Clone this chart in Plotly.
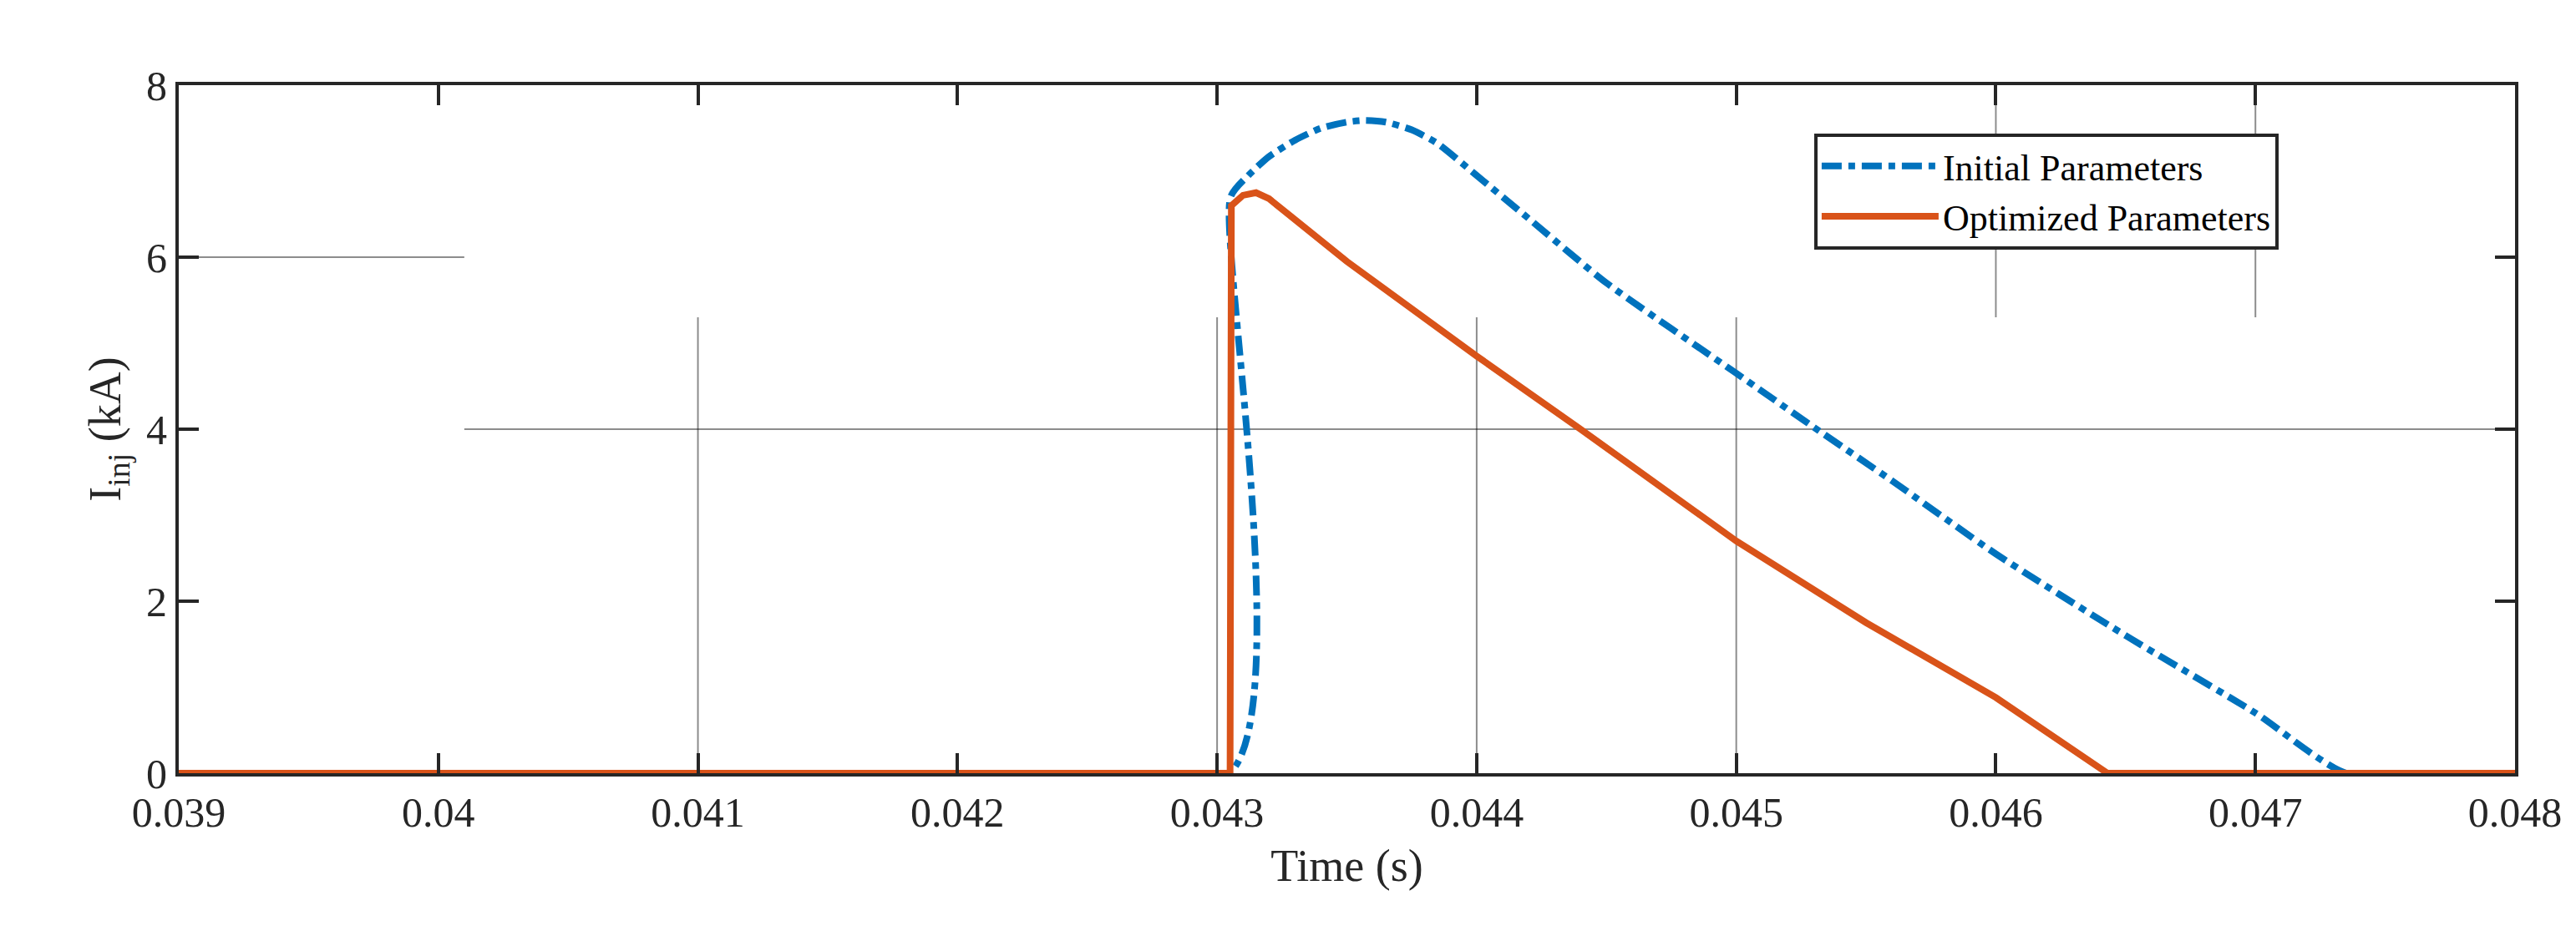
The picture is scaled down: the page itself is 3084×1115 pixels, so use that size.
import plotly.graph_objects as go

# time (s) and injected current (kA)
t_init = [0.039, 0.04305, 0.043052, 0.04312, 0.0432, 0.0433, 0.0434, 0.0435, 0.04357, 0.04365, 0.04375, 0.04385,
          0.0440, 0.0442, 0.0445, 0.0450, 0.0453, 0.0456, 0.0460, 0.0465, 0.0470, 0.04735, 0.048]
i_init = [0.0, 0.0, 6.7, 6.95, 7.17, 7.36, 7.5, 7.57, 7.59, 7.57, 7.48, 7.32,
          6.95, 6.45, 5.7, 4.65, 4.02, 3.4, 2.55, 1.6, 0.7, 0.0, 0.0]

t_opt = [0.039, 0.04305, 0.043055, 0.04310, 0.04315, 0.0432, 0.0435, 0.0440, 0.0444, 0.0450, 0.0455, 0.0460, 0.04643, 0.048]
i_opt = [0.0, 0.0, 6.6, 6.72, 6.75, 6.68, 5.95, 4.85, 4.0, 2.7, 1.75, 0.88, 0.0, 0.0]

x_ticks = [0.039, 0.04, 0.041, 0.042, 0.043, 0.044, 0.045, 0.046, 0.047, 0.048]
y_ticks = [0, 2, 4, 6, 8]

font = "Liberation Serif"
fig = go.Figure()
fig.add_trace(go.Scatter(x=t_init, y=i_init, mode="lines", name="Initial Parameters", line_shape="spline",
                         line=dict(color="#0072BD", width=8, dash="dashdot", smoothing=0.6)))
fig.add_trace(go.Scatter(x=t_opt, y=i_opt, mode="lines", name="Optimized Parameters",
                         line=dict(color="#D95319", width=8)))

# faint grid fragments seen in the source image
grid = dict(type="line", line=dict(color="rgba(0,0,0,0.45)", width=2), layer="below")
fig.add_shape(x0=0.0401, x1=0.048, y0=4, y1=4, **grid)
fig.add_shape(x0=0.039, x1=0.0401, y0=6, y1=6, **grid)
for xv in [0.041, 0.043, 0.044, 0.045]:
    fig.add_shape(x0=xv, x1=xv, y0=0, y1=5.3, **grid)
for xv in [0.046, 0.047]:
    fig.add_shape(x0=xv, x1=xv, y0=5.3, y1=8, **grid)

axis = dict(showline=True, linecolor="#262626", linewidth=4, mirror="ticks", ticks="inside",
            ticklen=24, tickwidth=4, tickcolor="#262626", showgrid=False, zeroline=False,
            tickfont=dict(family=font, size=50, color="#262626"))
fig.update_xaxes(range=[0.039, 0.048], tickvals=x_ticks, ticktext=[str(v) for v in x_ticks],
                 title=dict(text="Time (s)", font=dict(family=font, size=54, color="#262626"), standoff=18),
                 **axis)
fig.update_yaxes(range=[0, 8], tickvals=y_ticks,
                 title=dict(text="I<sub>inj</sub> (kA)", font=dict(family=font, size=54, color="#262626"), standoff=14),
                 **axis)
fig.update_layout(width=3084, height=1115, plot_bgcolor="white", paper_bgcolor="white",
                  margin=dict(l=206, r=81, t=94, b=197),
                  legend=dict(x=0.7, y=0.93, xanchor="left", yanchor="top",
                              bgcolor="white", bordercolor="#262626", borderwidth=4,
                              font=dict(family=font, size=44, color="black"),
                              itemwidth=140, tracegroupgap=10))
fig.write_html("out.html")
